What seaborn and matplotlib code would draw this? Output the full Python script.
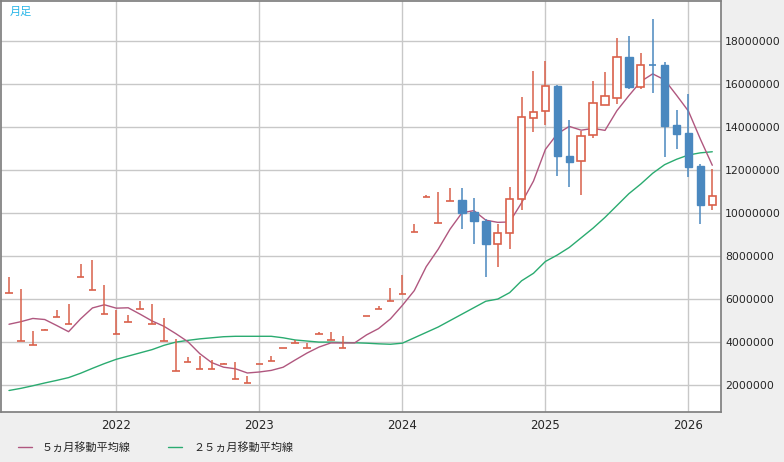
import numpy as np
import pandas as pd
import matplotlib
matplotlib.use("Agg")
import matplotlib.pyplot as plt
from matplotlib.lines import Line2D
import seaborn as sns

sns.set_theme(style="white")
plt.rcParams['font.family'] = ['Noto Sans CJK JP', 'DejaVu Sans']

months = pd.date_range("2021-04-01", periods=60, freq="MS")
nan = np.nan
opens = [6.27,4.04,3.85,4.55,5.15,4.83,7.01,6.40,5.29,4.36,4.92,5.52,4.83,4.04,2.65,3.07,2.74,2.74,2.97,2.28,
         2.09,2.97,3.11,3.71,3.95,3.71,4.36,4.08,3.71,nan,5.20,5.52,5.89,6.22,9.14,10.76,9.56,10.58,
         10.63,10.07,9.65,8.58,9.05,10.67,14.43,14.75,15.91,12.67,12.43,13.64,15.03,15.36,17.26,15.87,16.90,16.89,14.10,13.73,12.20,10.39]
highs = [7.01,6.45,4.50,4.60,5.48,5.76,7.61,7.80,6.64,5.48,5.25,5.90,5.76,5.11,4.13,3.30,3.34,3.16,3.02,3.07,
         2.42,3.00,3.34,3.71,4.08,3.95,4.46,4.46,4.27,nan,5.20,5.66,6.50,7.10,9.51,10.86,11.00,11.18,
         11.18,10.72,9.74,9.51,11.23,15.40,16.61,17.07,15.95,14.34,13.83,16.14,16.56,18.14,18.23,17.44,19.00,17.03,14.80,15.54,12.29,12.06]
lows = [6.27,4.04,3.85,4.55,5.15,4.83,7.01,6.40,5.29,4.36,4.92,5.52,4.83,4.04,2.65,3.07,2.74,2.74,2.97,2.28,
        2.09,2.97,3.11,3.71,3.95,3.71,4.36,4.08,3.71,nan,5.20,5.52,5.89,6.22,9.14,10.76,9.56,10.58,
        9.28,8.54,7.01,7.47,8.31,10.16,13.78,14.10,11.74,11.23,10.86,13.50,15.03,15.08,15.77,15.77,15.60,12.62,12.99,11.69,9.47,10.16]
closes = [6.27,4.04,3.85,4.55,5.15,4.83,7.01,6.40,5.29,4.36,4.92,5.52,4.83,4.04,2.65,3.07,2.74,2.74,2.97,2.28,
          2.09,2.97,3.11,3.71,3.95,3.71,4.36,4.08,3.71,nan,5.20,5.52,5.89,6.22,9.14,10.76,9.56,10.58,
          10.02,9.65,8.54,9.05,10.67,14.47,14.71,15.91,12.67,12.39,13.59,15.12,15.45,17.26,15.87,16.89,16.89,14.06,13.69,12.16,10.39,10.81]
prior_closes = [3.44, 3.10, 4.80, 6.54]
ma25 = [1.75,1.85,1.97,2.10,2.22,2.35,2.55,2.78,3.00,3.20,3.35,3.50,3.65,3.85,4.00,4.08,4.15,4.20,4.25,4.27,
        4.27,4.27,4.27,4.20,4.10,4.05,4.00,4.00,3.98,3.97,3.95,3.92,3.90,3.95,4.20,4.45,4.70,5.00,5.30,5.60,
        5.90,6.00,6.30,6.85,7.20,7.75,8.05,8.40,8.85,9.30,9.80,10.35,10.90,11.35,11.85,12.25,12.50,12.70,12.80,12.85]
years = ["2022", "2023", "2024", "2025", "2026"]

M = 1e6
idx = np.arange(len(months))
o = np.array(opens) * M; h = np.array(highs) * M; l = np.array(lows) * M; c = np.array(closes) * M
allc = pd.Series(prior_closes + closes) * M
ma5 = allc.rolling(5, min_periods=4).mean().values[len(prior_closes):]

UP = "#d9604a"; DN = "#4a88bf"
fig = plt.figure(figsize=(7.84, 4.62), dpi=100, facecolor="#efefef")
ax = fig.add_axes([1/784, 50/462, 720/784, 411/462])
ax.set_facecolor("white")

df = pd.DataFrame({"i": idx, "ma5": ma5, "ma25": np.array(ma25) * M})
sns.lineplot(data=df, x="i", y="ma25", ax=ax, color="#2aab70", lw=1.0, zorder=2)
sns.lineplot(data=df, x="i", y="ma5", ax=ax, color="#b0577f", lw=1.0, zorder=2)

w = 0.62
for i in idx:
    if np.isnan(c[i]):
        continue
    col = DN if c[i] < o[i] else UP
    lo_b, hi_b = min(o[i], c[i]), max(o[i], c[i])
    ax.vlines(i, l[i], lo_b, color=col, lw=1.1, zorder=3)
    ax.vlines(i, hi_b, h[i], color=col, lw=1.1, zorder=3)
    if hi_b - lo_b < 0.05 * M:
        ax.hlines(o[i], i - w/2, i + w/2, color=col, lw=1.2, zorder=3)
    elif c[i] < o[i]:
        ax.add_patch(plt.Rectangle((i - w/2, lo_b), w, hi_b - lo_b, facecolor=col, edgecolor=col, lw=1, zorder=4))
    else:
        ax.add_patch(plt.Rectangle((i - w/2, lo_b), w, hi_b - lo_b, facecolor="white", edgecolor=col, lw=1.2, zorder=4))

ax.set_xlim(-0.67, 59.73)
ax.set_ylim(0.75 * M, 19.86 * M)
yt = np.arange(2, 19, 2) * M
xt = [9, 21, 33, 45, 57]
ax.set_yticks(yt)
ax.set_xticks(xt)
ax.grid(True, color="#c8c8c8", lw=1)
ax.yaxis.tick_right()
ax.set_yticklabels([f"{int(v)}" for v in yt], fontsize=7.8, family="DejaVu Sans")
ax.set_xticklabels(years, fontsize=8.5, family="DejaVu Sans")
ax.tick_params(axis="y", length=0, pad=3)
ax.tick_params(axis="x", length=0, pad=5)
ax.set_xlabel(""); ax.set_ylabel("")
for s in ax.spines.values():
    s.set_color("#808080")
ax.text(0.012, 0.985, "月足", transform=ax.transAxes, color="#29b6e8", fontsize=8, va="top")

fig.add_artist(Line2D([18/784, 32/784], [1 - 447/462] * 2, color="#b0577f", lw=1))
fig.text(42/784, 1 - 447/462, "５ヵ月移動平均線", fontsize=8, va="center")
fig.add_artist(Line2D([168/784, 182/784], [1 - 447/462] * 2, color="#2aab70", lw=1))
fig.text(193/784, 1 - 447/462, "２５ヵ月移動平均線", fontsize=8, va="center")

fig.savefig("out.png", dpi=100, facecolor=fig.get_facecolor())
